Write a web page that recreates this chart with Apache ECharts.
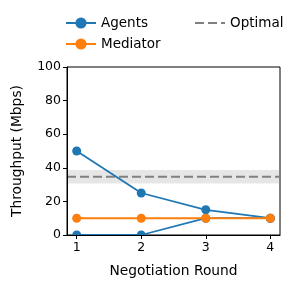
<!DOCTYPE html>
<html><head><meta charset="utf-8">
<script src="https://cdn.jsdelivr.net/npm/echarts@6/dist/echarts.min.js"></script>
<style>html,body{margin:0;padding:0;background:#fff}#c{width:299px;height:288px}</style>
</head><body><div id="c"></div>
<script>
const rounds = [1, 2, 3, 4];
const agentsHigh = [50, 25, 15, 10];
const agentsLow = [0, 0, 10, 10];
const mediator = [10, 10, 10, 10];
const optimal = 34.7;
const optimalBand = [30.7, 38.7];
const yTicks = [0, 20, 40, 60, 80, 100];

const FONT = 'DejaVu Sans';
const chart = echarts.init(document.getElementById('c'), null, {renderer: 'canvas'});
const pair = (vals) => rounds.map((r, i) => [r, vals[i]]);
const xMin = 0.85, xMax = 4.15;

chart.setOption({
  animation: false,
  textStyle: {fontFamily: FONT, color: '#000'},
  grid: {left: 67, right: 19, top: 67, bottom: 53, show: true, borderColor: '#000', borderWidth: 1, backgroundColor: 'transparent'},
  legend: [
    {data: ['Agents', 'Mediator'], orient: 'vertical', left: 60, top: 11, itemWidth: 30, itemHeight: 14, itemGap: 7,
     textStyle: {fontFamily: FONT, fontSize: 13.5, color: '#000'}, selectedMode: false},
    {data: [{name: 'Optimal', itemStyle: {opacity: 0}}], orient: 'vertical', left: 189, top: 11, itemWidth: 30, itemHeight: 14,
     textStyle: {fontFamily: FONT, fontSize: 13.5, color: '#000'}, selectedMode: false}
  ],
  xAxis: {
    type: 'value', min: xMin, max: xMax, z: 10,
    name: 'Negotiation Round', nameLocation: 'middle', nameGap: 29,
    nameTextStyle: {fontFamily: FONT, fontSize: 13.8, color: '#000'},
    axisLine: {show: true, lineStyle: {color: '#000', width: 1}},
    axisTick: {show: true, length: 4, lineStyle: {color: '#000'}, customValues: rounds},
    axisLabel: {show: true, fontFamily: FONT, fontSize: 12.5, color: '#000', margin: 6, customValues: rounds},
    splitLine: {show: false}
  },
  yAxis: {
    type: 'value', min: 0, max: 100, interval: 20, z: 10,
    name: 'Throughput (Mbps)', nameLocation: 'middle', nameGap: 43,
    nameTextStyle: {fontFamily: FONT, fontSize: 13.8, color: '#000'},
    axisLine: {show: true, lineStyle: {color: '#000', width: 1}},
    axisTick: {show: true, length: 4, lineStyle: {color: '#000'}},
    axisLabel: {fontFamily: FONT, fontSize: 12.5, color: '#000', margin: 6,
                formatter: (v) => yTicks.includes(v) ? String(v) : ''},
    splitLine: {show: false}
  },
  graphic: [{type: 'rect', z: 5, silent: true, shape: {x: 67.5, y: 235.6, width: 212, height: 10}, style: {fill: '#fff'}}],
  series: [
    {name: 'Optimal', type: 'line', data: [[xMin, optimal], [xMax, optimal]], symbol: 'none',
     lineStyle: {color: '#808080', width: 2, type: [9, 4]}, itemStyle: {color: '#808080'},
     markArea: {silent: true, itemStyle: {color: 'rgba(128,128,128,0.2)'}, data: [[{yAxis: optimalBand[0]}, {yAxis: optimalBand[1]}]]}, z: 1},
    {name: 'Agents', type: 'line', data: pair(agentsHigh), symbol: 'circle', symbolSize: 9,
     lineStyle: {color: '#1f77b4', width: 1.8}, itemStyle: {color: '#1f77b4'}, z: 2},
    {name: 'Agents', type: 'line', data: pair(agentsLow), symbol: 'circle', symbolSize: 9,
     lineStyle: {color: '#1f77b4', width: 1.8}, itemStyle: {color: '#1f77b4'}, z: 2},
    {name: 'Mediator', type: 'line', data: pair(mediator), symbol: 'circle', symbolSize: 9,
     lineStyle: {color: '#ff7f0e', width: 2}, itemStyle: {color: '#ff7f0e'}, z: 3}
  ]
});
</script></body></html>
